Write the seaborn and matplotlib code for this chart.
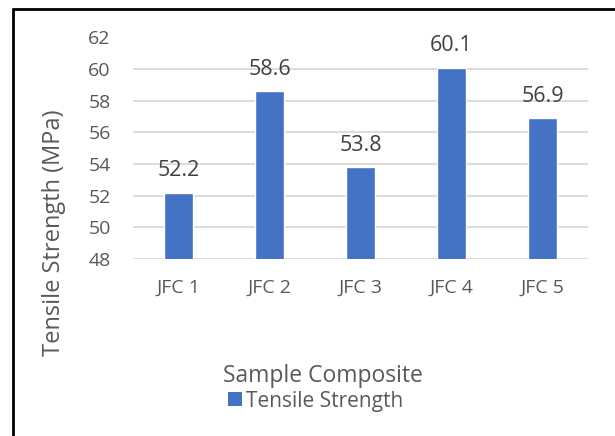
import matplotlib
matplotlib.use("Agg")
import matplotlib.pyplot as plt
from matplotlib.lines import Line2D
from matplotlib.patches import Patch
import seaborn as sns
import pandas as pd

categories = ["JFC 1", "JFC 2", "JFC 3", "JFC 4", "JFC 5"]
tensile_strength = [52.2, 58.6, 53.8, 60.1, 56.9]
y_ticks = [48, 50, 52, 54, 56, 58, 60, 62]

BAR_COLOR = "#4472C4"
TEXT_COLOR = "#595959"
GRID_COLOR = "#D9D9D9"

sns.set_theme(style="white")
plt.rcParams["font.family"] = ["Open Sans", "DejaVu Sans"]

df = pd.DataFrame({"Sample": categories, "Tensile Strength": tensile_strength})

W, H = 615, 436
fig = plt.figure(figsize=(W / 100, H / 100), dpi=100)
ax = fig.add_axes([133 / W, 1 - 259 / H, (588 - 133) / W, (259 - 37.5) / H])

sns.barplot(data=df, x="Sample", y="Tensile Strength", color=BAR_COLOR,
            width=0.31, saturation=1, ax=ax, zorder=3)

ax.set_ylim(y_ticks[0], y_ticks[-1])
ax.set_yticks(y_ticks)
ax.set_yticklabels([str(t) for t in y_ticks])
ax.set_xlim(-0.5, len(categories) - 0.5)

for y in y_ticks:
    ax.axhline(y, color=GRID_COLOR, lw=1.3, zorder=1)

for s in ax.spines.values():
    s.set_visible(False)
ax.tick_params(axis="y", length=0, pad=16, labelsize=14, labelcolor=TEXT_COLOR)
ax.tick_params(axis="x", length=0, pad=14, labelsize=14, labelcolor=TEXT_COLOR)
ax.set_xlabel("")
ax.set_ylabel("")

for i, v in enumerate(tensile_strength):
    ax.annotate(f"{v:.1f}", xy=(i, v), xytext=(0, 8), textcoords="offset points",
                ha="center", va="bottom", fontsize=15.5, color="#404040")

fig.text(53.5 / W, 1 - 232.5 / H, "Tensile Strength (MPa)", rotation=90,
         ha="center", va="center", fontsize=17, color=TEXT_COLOR)
fig.text(322.5 / W, 1 - 382 / H, "Sample Composite",
         ha="center", va="baseline", fontsize=16.5, color=TEXT_COLOR)

handle = Patch(facecolor=BAR_COLOR, edgecolor="none")
fig.legend([handle], ["Tensile Strength"], loc="center",
           bbox_to_anchor=(316 / W, 1 - 401 / H), frameon=False,
           fontsize=15, labelcolor=TEXT_COLOR, handlelength=0.67,
           handleheight=0.67, handletextpad=0.2, borderpad=0)

# outer chart border (left and top edges)
fig.add_artist(Line2D([12.5 / W, 12.5 / W], [0, 1 - 9 / H], transform=fig.transFigure,
                      color="black", lw=2))
fig.add_artist(Line2D([12.5 / W, 1], [1 - 9 / H, 1 - 9 / H], transform=fig.transFigure,
                      color="black", lw=2))

fig.savefig("out.png", dpi=100, facecolor="white")
